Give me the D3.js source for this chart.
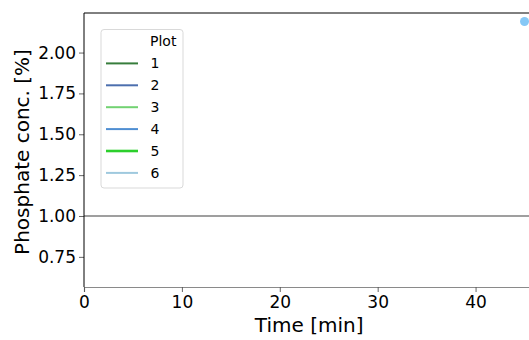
<!DOCTYPE html>
<html>
<head>
<meta charset="utf-8">
<script src="https://cdn.jsdelivr.net/npm/d3@7"></script>
<style>
  html, body { margin: 0; padding: 0; background: #fff; }
  svg { display: block; }
</style>
</head>
<body>
<div id="chart"></div>
<script>
// ---- data ----
const legendTitle = "Plot";
const plotNames = ["1", "2", "3", "4", "5", "6"];
const plotColors = ["#377d3c", "#4c6fae", "#72d272", "#4f8ed2", "#2ccf2c", "#9fc9de"];
const pointTimes = [45];
const pointConcs = [2.19];
const pointColor = "#86c8f6";
const refLevel = 1.0;
const xTicks = [0, 10, 20, 30, 40];
const yTicks = [0.75, 1.00, 1.25, 1.50, 1.75, 2.00];
const xDomain = [0, 46];
const yDomain = [0.5656, 2.242];
const xLabel = "Time [min]";
const yLabel = "Phosphate conc. [%]";

// ---- layout ----
const W = 529, H = 340;
const mLeft = 84, mTop = 13, mBottom = 287, mRight = 534.3;

const svg = d3.select("#chart").append("svg")
  .attr("width", W).attr("height", H)
  .style("font-family", "'DejaVu Sans', sans-serif");

const x = d3.scaleLinear().domain(xDomain).range([mLeft, mRight]);
const y = d3.scaleLinear().domain(yDomain).range([mBottom, mTop]);

// reference line
svg.append("line")
  .attr("x1", mLeft).attr("x2", mRight)
  .attr("y1", y(refLevel)).attr("y2", y(refLevel))
  .attr("stroke", "#7f7f7f").attr("stroke-width", 1.5);

// points
svg.append("g").selectAll("circle")
  .data(pointTimes.map((t, i) => ({ t, c: pointConcs[i] })))
  .join("circle")
  .attr("cx", d => x(d.t)).attr("cy", d => y(d.c))
  .attr("r", 4.5).attr("fill", pointColor);

// axes
const xAxis = svg.append("g")
  .attr("transform", `translate(0,${mBottom})`)
  .call(d3.axisBottom(x).tickValues(xTicks).tickFormat(d3.format("d")).tickSize(5).tickPadding(4));
xAxis.select(".domain").attr("stroke", "#8a8a8a").attr("stroke-width", 1.2);
xAxis.selectAll(".tick line").attr("stroke", "#555").attr("stroke-width", 0.9);
xAxis.selectAll(".tick text").attr("font-size", 17).attr("fill", "#000")
  .attr("font-family", "'DejaVu Sans', sans-serif");

const yAxis = svg.append("g")
  .attr("transform", `translate(${mLeft},0)`)
  .call(d3.axisLeft(y).tickValues(yTicks).tickFormat(d3.format(".2f")).tickSize(5).tickPadding(3));
yAxis.select(".domain").remove();
yAxis.selectAll(".tick line").attr("stroke", "#555").attr("stroke-width", 0.9);
yAxis.selectAll(".tick text").attr("font-size", 17).attr("fill", "#000")
  .attr("font-family", "'DejaVu Sans', sans-serif");

// spines (left, top)
svg.append("line").attr("x1", mLeft).attr("x2", mLeft).attr("y1", mTop).attr("y2", mBottom)
  .attr("stroke", "#000").attr("stroke-width", 1);
svg.append("line").attr("x1", mLeft).attr("x2", mRight).attr("y1", mTop).attr("y2", mTop)
  .attr("stroke", "#000").attr("stroke-width", 1);

// axis labels
svg.append("text")
  .attr("x", (mLeft + mRight) / 2).attr("y", 332)
  .attr("text-anchor", "middle").attr("font-size", 20).attr("fill", "#000")
  .text(xLabel);
svg.append("text")
  .attr("transform", `translate(29,${(mTop + mBottom) / 2 + 2}) rotate(-90)`)
  .attr("text-anchor", "middle").attr("font-size", 20).attr("fill", "#000")
  .text(yLabel);

// legend
const lg = svg.append("g");
lg.append("rect")
  .attr("x", 101).attr("y", 29.5).attr("width", 82).attr("height", 158.5)
  .attr("rx", 3).attr("fill", "#fff").attr("fill-opacity", 0.8)
  .attr("stroke", "#d9d9d9").attr("stroke-width", 1);
const rowY0 = 41.5, rowStep = 21.9;
lg.append("text")
  .attr("x", 150).attr("y", rowY0).attr("dy", "0.35em")
  .attr("font-size", 14).attr("fill", "#000").text(legendTitle);
const rows = lg.selectAll("g.row").data(plotNames).join("g")
  .attr("class", "row")
  .attr("transform", (d, i) => `translate(0,${rowY0 + rowStep * (i + 1)})`);
rows.append("line")
  .attr("x1", 106).attr("x2", 138).attr("y1", 0).attr("y2", 0)
  .attr("stroke", (d, i) => plotColors[i])
  .attr("stroke-width", (d, i) => i === 4 ? 2.6 : 2);
rows.append("text")
  .attr("x", 150.5).attr("dy", "0.35em")
  .attr("font-size", 14).attr("fill", "#000").text(d => d);
</script>
</body>
</html>
